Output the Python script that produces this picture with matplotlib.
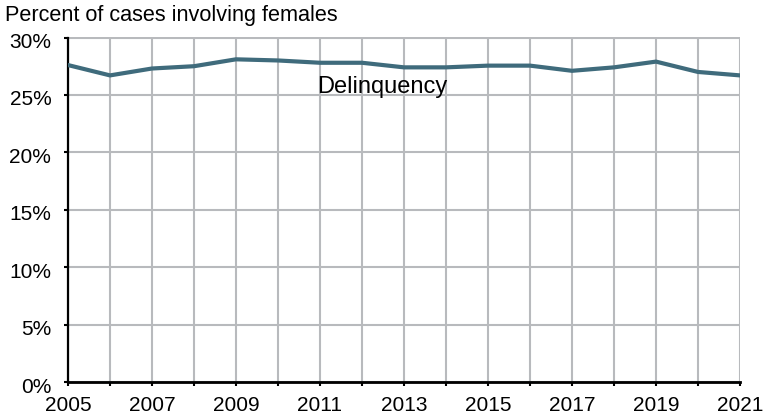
import matplotlib.pyplot as plt
import matplotlib.transforms as mtransforms

# datos
years = list(range(2005, 2022))
pct_female = [27.6, 26.7, 27.3, 27.5, 28.1, 28.0, 27.8, 27.8, 27.4, 27.4,
              27.55, 27.55, 27.1, 27.4, 27.9, 27.0, 26.7]
year_labels = [str(y) if y % 2 == 1 else "" for y in years]
y_ticks = [0, 5, 10, 15, 20, 25, 30]

plt.rcParams["font.family"] = "Liberation Sans"

fig = plt.figure(figsize=(7.63, 4.19), dpi=100)
ax = fig.add_axes([68 / 763, 1 - 382 / 419, (740 - 68) / 763, (382 - 37.5) / 419])

ax.plot(years, pct_female, color="#3f6b7c", linewidth=3, solid_joinstyle="miter", zorder=3)

ax.set_xlim(2005, 2021)
ax.set_ylim(0, 30)
ax.set_xticks(years)
ax.set_xticklabels(year_labels, fontsize=15)
ax.set_yticks(y_ticks)
ax.set_yticklabels([f"{v}%" for v in y_ticks], fontsize=15)

ax.grid(True, color="#b8babd", linewidth=1.5, zorder=0)
ax.set_axisbelow(True)
for s in ["top", "right"]:
    ax.spines[s].set_visible(False)
ax.spines["left"].set_linewidth(1.6)
ax.spines["bottom"].set_linewidth(2)
ax.tick_params(axis="y", length=3, width=1.5, pad=9)
ax.tick_params(axis="x", length=3, width=1.5, pad=7)

# bajar un poco las etiquetas del eje y
offset = mtransforms.ScaledTranslation(0, -3 / 100, fig.dpi_scale_trans)
for lab in ax.get_yticklabels():
    lab.set_transform(lab.get_transform() + offset)

ax.text(2012.49, 25.7, "Delinquency", ha="center", va="center", fontsize=17)
fig.text(5 / 763, 1 - 15 / 419, "Percent of cases involving females", ha="left", va="center", fontsize=15.6)

fig.savefig("out.png", dpi=100)
